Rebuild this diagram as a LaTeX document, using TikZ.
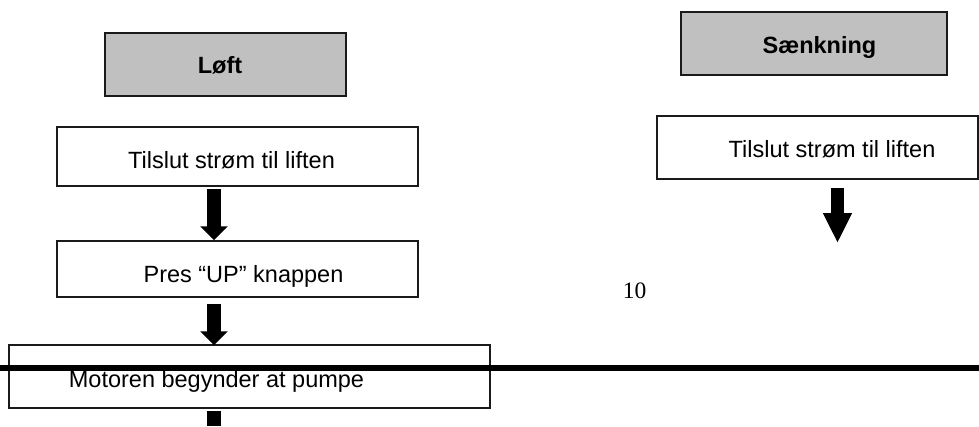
\documentclass[tikz,border=0pt]{standalone}
\usepackage{fontspec}
\setmainfont{Liberation Sans}
\newfontfamily\timesfont{Liberation Serif}
\usetikzlibrary{arrows.meta}
\definecolor{boxgray}{HTML}{C0C0C0}
\definecolor{edge}{HTML}{1A1A1A}
\tikzset{
  box/.style={draw=edge, line width=1.5pt, inner sep=0pt, fill=white},
  titlebox/.style={box, fill=boxgray},
  txt/.style={anchor=base, inner sep=0pt, font=\fontsize{23.5}{28}\selectfont},
  bigarrow/.style={line width=14pt, -{Triangle[width=27pt,length=14pt]}},
  bigarrowR/.style={line width=13pt, -{Triangle[width=27pt,length=30pt]}},
}
\begin{document}
\begin{tikzpicture}[x=1pt,y=-1pt]
\useasboundingbox (0,0) rectangle (979,426);
% left column
\node[titlebox, minimum width=241pt, minimum height=63pt] (loft) at (225.5,64.5) {};
\node[txt, font=\fontsize{23.5}{28}\selectfont\bfseries] (loftt) at (220,73) {Løft};
\node[box, minimum width=361pt, minimum height=59pt] (b1) at (237.5,156.5) {};
\node[txt] (b1t) at (231.5,168) {Tilslut strøm til liften};
\node[box, minimum width=361pt, minimum height=56pt] (b2) at (237.5,269) {};
\node[txt] (b2t) at (243.5,282) {Pres “UP” knappen};
\node[box, minimum width=481pt, minimum height=63pt] (b3) at (249.5,376.5) {};
\node[txt] (b3t) at (216.5,387) {Motoren begynder at pumpe};
\draw[bigarrow] ([xshift=-23.5pt,yshift=-2pt]b1.south) -- ([xshift=-23.5pt]b2.north);
\draw[bigarrow] ([xshift=-23.5pt,yshift=-6pt]b2.south) -- ([xshift=-35.5pt,yshift=-1pt]b3.north);
\coordinate (end3) at (214,426);
\draw[line width=14pt] ([xshift=-35.5pt,yshift=-2pt]b3.south) -- (end3);
% right column
\node[titlebox, minimum width=266pt, minimum height=63pt] (saenk) at (814,43.5) {};
\node[txt, font=\fontsize{23.5}{28}\selectfont\bfseries] (saenkt) at (819.5,53) {Sænkning};
\node[box, minimum width=321pt, minimum height=63pt] (r1) at (817.5,147.5) {};
\node[txt] (r1t) at (832,157) {Tilslut strøm til liften};
\coordinate (rend) at (837.5,243);
\draw[bigarrowR] ([xshift=20pt,yshift=-8pt]r1.south) -- (rend);
\node[txt, font=\fontsize{23.5}{28}\selectfont\timesfont] (pg) at (634.5,298) {10};
% page rule
\coordinate (hl) at (0,368);
\coordinate (hr) at (979,368);
\draw[line width=6pt] (hl) -- (hr);
\end{tikzpicture}
\end{document}
